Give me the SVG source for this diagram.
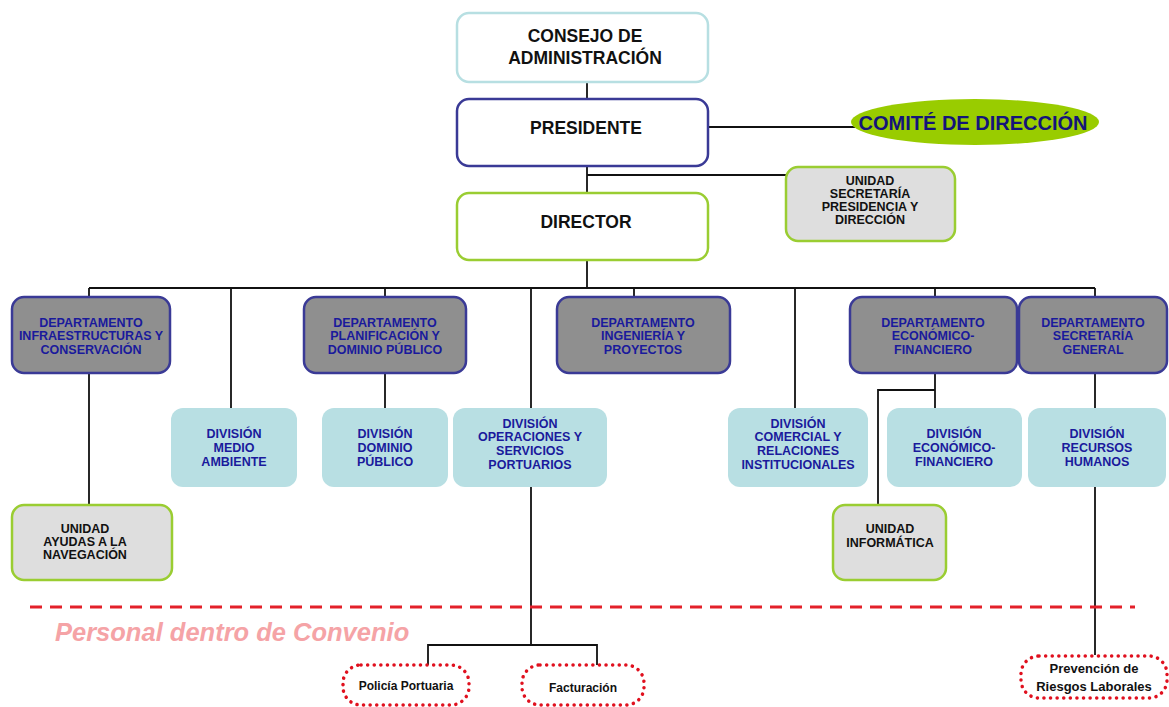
<svg xmlns="http://www.w3.org/2000/svg" width="1169" height="707" viewBox="0 0 1169 707">
<style>
text{font-family:"Liberation Sans",Arial,sans-serif;font-weight:bold;text-anchor:middle}
.top{font-size:17.5px;fill:#111}
.dept rect{fill:#8f8f8f;stroke:#3a3a96;stroke-width:2.5}
.dept text{font-size:12.5px;fill:#1a1a9c}
.div rect{fill:#b8dfe3}
.div text{font-size:12.5px;fill:#1a1a9c}
.unit rect{fill:#dedede;stroke:#9acd32;stroke-width:2.5}
.unit text{font-size:12.5px;fill:#111}
.conv rect{fill:#fff;stroke:#e0101e;stroke-width:3.5;stroke-dasharray:0.1 6.5;stroke-linecap:round}
.conv text{font-size:12px;fill:#111}
#connectors line,#connectors polyline{stroke:#111;stroke-width:1.8;fill:none}
</style>
<rect width="1169" height="707" fill="#fff"/>
<g id="connectors">
<line x1="587" y1="82" x2="587" y2="99"/>
<line x1="708" y1="127" x2="855" y2="127"/>
<line x1="587" y1="166" x2="587" y2="193"/>
<line x1="587" y1="175" x2="787" y2="175"/>
<line x1="587" y1="260" x2="587" y2="288"/>
<line x1="89" y1="288" x2="1095" y2="288"/>
<line x1="89" y1="288" x2="89" y2="505"/>
<line x1="231" y1="288" x2="231" y2="408"/>
<line x1="385" y1="288" x2="385" y2="408"/>
<line x1="531" y1="288" x2="531" y2="645"/>
<polyline points="428,665 428,645 597,645 597,665"/>
<line x1="634" y1="288" x2="634" y2="297"/>
<line x1="795" y1="288" x2="795" y2="408"/>
<line x1="935" y1="288" x2="935" y2="408"/>
<polyline points="935,390 878,390 878,505"/>
<line x1="1095" y1="288" x2="1095" y2="655"/>
</g>
<line x1="30" y1="607" x2="1135" y2="607" stroke="#e3202a" stroke-width="3" stroke-dasharray="12 8"/>
<text x="55" y="641" style="font-size:25.5px;font-style:italic;fill:#f5a3a6;text-anchor:start">Personal dentro de Convenio</text>
<g id="consejo"><rect x="457" y="13" width="251" height="69" rx="12" fill="#fff" stroke="#b7dfe2" stroke-width="2.5"/>
<text class="top" x="585" y="42">CONSEJO DE</text><text class="top" x="585" y="64">ADMINISTRACIÓN</text></g>
<g id="presidente"><rect x="457" y="99" width="251" height="67" rx="12" fill="#fff" stroke="#3a3a96" stroke-width="2.5"/>
<text class="top" x="586" y="134">PRESIDENTE</text></g>
<g id="comite"><ellipse cx="975" cy="122" rx="124" ry="23" fill="#99cc00"/>
<text x="973" y="130" style="font-size:20px;fill:#14147a">COMITÉ DE DIRECCIÓN</text></g>
<g id="director"><rect x="457" y="193" width="251" height="67" rx="12" fill="#fff" stroke="#9acd32" stroke-width="2.5"/>
<text class="top" x="586" y="228">DIRECTOR</text></g>
<g id="unidad-secretaria" class="unit"><rect x="786" y="167" width="169" height="74" rx="12"/>
<text x="870" y="185">UNIDAD</text><text x="870" y="198">SECRETARÍA</text><text x="870" y="211">PRESIDENCIA Y</text><text x="870" y="224">DIRECCIÓN</text></g>
<g id="dep-infra" class="dept"><rect x="12" y="297" width="158" height="76" rx="12"/>
<text x="91" y="327">DEPARTAMENTO</text><text x="91" y="340">INFRAESTRUCTURAS Y</text><text x="91" y="354">CONSERVACIÓN</text></g>
<g id="dep-planif" class="dept"><rect x="304" y="297" width="162" height="76" rx="12"/>
<text x="385" y="327">DEPARTAMENTO</text><text x="385" y="340">PLANIFICACIÓN Y</text><text x="385" y="354">DOMINIO PÚBLICO</text></g>
<g id="dep-ing" class="dept"><rect x="557" y="297" width="173" height="76" rx="12"/>
<text x="643" y="327">DEPARTAMENTO</text><text x="643" y="340">INGENIERÍA Y</text><text x="643" y="354">PROYECTOS</text></g>
<g id="dep-eco" class="dept"><rect x="850" y="297" width="167" height="76" rx="12"/>
<text x="933" y="327">DEPARTAMENTO</text><text x="933" y="340">ECONÓMICO-</text><text x="933" y="354">FINANCIERO</text></g>
<g id="dep-sec" class="dept"><rect x="1019" y="297" width="148" height="76" rx="12"/>
<text x="1093" y="327">DEPARTAMENTO</text><text x="1093" y="340">SECRETARÍA</text><text x="1093" y="354">GENERAL</text></g>
<g id="div-medio" class="div"><rect x="171" y="408" width="126" height="79" rx="12"/>
<text x="234" y="438">DIVISIÓN</text><text x="234" y="452">MEDIO</text><text x="234" y="466">AMBIENTE</text></g>
<g id="div-dominio" class="div"><rect x="322" y="408" width="126" height="79" rx="12"/>
<text x="385" y="438">DIVISIÓN</text><text x="385" y="452">DOMINIO</text><text x="385" y="466">PÚBLICO</text></g>
<g id="div-oper" class="div"><rect x="453" y="408" width="154" height="79" rx="12"/>
<text x="530" y="428">DIVISIÓN</text><text x="530" y="441">OPERACIONES Y</text><text x="530" y="455">SERVICIOS</text><text x="530" y="469">PORTUARIOS</text></g>
<g id="div-comercial" class="div"><rect x="728" y="408" width="140" height="79" rx="12"/>
<text x="798" y="428">DIVISIÓN</text><text x="798" y="441">COMERCIAL Y</text><text x="798" y="455">RELACIONES</text><text x="798" y="469">INSTITUCIONALES</text></g>
<g id="div-eco" class="div"><rect x="887" y="408" width="135" height="79" rx="12"/>
<text x="954" y="438">DIVISIÓN</text><text x="954" y="452">ECONÓMICO-</text><text x="954" y="466">FINANCIERO</text></g>
<g id="div-rrhh" class="div"><rect x="1028" y="408" width="138" height="79" rx="12"/>
<text x="1097" y="438">DIVISIÓN</text><text x="1097" y="452">RECURSOS</text><text x="1097" y="466">HUMANOS</text></g>
<g id="unidad-ayudas" class="unit"><rect x="12" y="505" width="160" height="75" rx="12"/>
<text x="85" y="533">UNIDAD</text><text x="85" y="546">AYUDAS A LA</text><text x="85" y="559">NAVEGACIÓN</text></g>
<g id="unidad-informatica" class="unit"><rect x="833" y="505" width="113" height="75" rx="12"/>
<text x="890" y="533">UNIDAD</text><text x="890" y="547">INFORMÁTICA</text></g>
<g id="policia" class="conv"><rect x="343" y="665" width="126" height="40" rx="18"/>
<text x="406" y="690">Policía Portuaria</text></g>
<g id="facturacion" class="conv"><rect x="522" y="665" width="122" height="40" rx="18"/>
<text x="583" y="692">Facturación</text></g>
<g id="prevencion" class="conv"><rect x="1021" y="656" width="146" height="42" rx="18"/>
<text x="1094" y="673" style="font-size:13px">Prevención de</text><text x="1094" y="691" style="font-size:13px">Riesgos Laborales</text></g>
</svg>
